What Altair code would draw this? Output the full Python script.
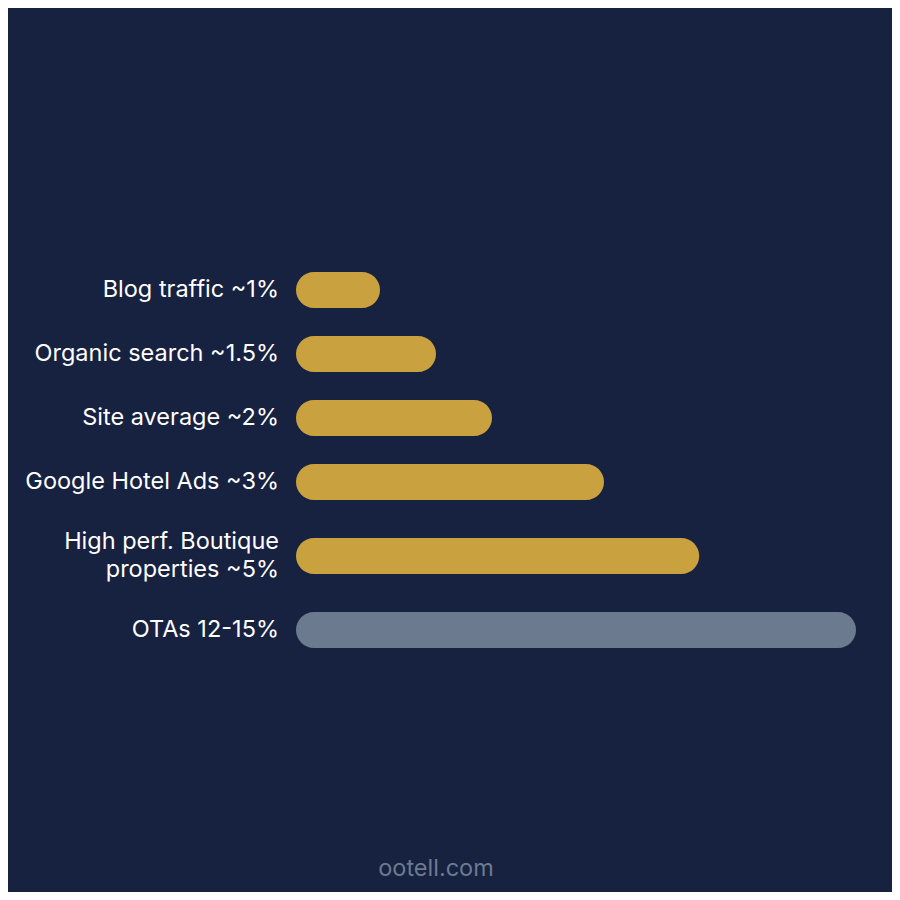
import altair as alt
import pandas as pd

labels = ["Blog traffic ~1%", "Organic search ~1.5%", "Site average ~2%",
          "Google Hotel Ads ~3%", "High perf. Boutique\nproperties ~5%", "OTAs 12-15%"]
widths = [15, 25, 35, 55, 72, 100]
groups = ["direct", "direct", "direct", "direct", "direct", "ota"]

BG = "#172140"
GOLD = "#C9A23F"
SLATE = "#6C7A90"
LINE_H = 28

df = pd.DataFrame({"label": labels, "width": widths, "group": groups,
                   "order": list(range(len(labels)))})

# row height grows with number of text lines in the label (like a flex list)
base = alt.Chart(df).transform_calculate(
    lines="length(split(datum.label, '\\n'))",
    rowh="44 + 20 * datum.lines",
).transform_window(
    cum="sum(rowh)", sort=[alt.SortField("order")], frame=[None, 0]
).transform_calculate(
    center="datum.cum - datum.rowh / 2",
).transform_calculate(
    textpos=f"datum.center - (datum.lines - 1) * {LINE_H} / 2",
)

yscale = alt.Scale(zero=False, nice=False, padding=0, range=[282, 622])
xs = alt.Scale(domain=[0, 100], range=[288, 848], padding=0)

bars = base.mark_bar(cornerRadius=18, height=36).encode(
    x=alt.X("width:Q", scale=xs, axis=None),
    x2=alt.datum(0),
    y=alt.Y("center:Q", axis=None, scale=yscale),
    color=alt.Color("group:N", scale=alt.Scale(domain=["direct", "ota"], range=[GOLD, SLATE]), legend=None),
)

text = base.mark_text(align="right", baseline="middle", dx=-17,
                      font="Inter", fontSize=23.5, color="white",
                      lineBreak="\n", lineHeight=LINE_H).encode(
    x=alt.X("zero:Q", scale=xs, axis=None),
    y=alt.Y("textpos:Q", axis=None, scale=yscale),
    text="label:N",
).transform_calculate(zero="0")

footer = alt.Chart(pd.DataFrame({"t": ["ootell.com"]})).mark_text(
    align="center", baseline="middle", font="Inter", fontSize=23.5, color=SLATE
).encode(x=alt.value(428), y=alt.value(861), text="t:N")

chart = alt.layer(bars, text, footer).properties(
    width=884, height=884, background=BG, padding=0,
    autosize=alt.AutoSizeParams(type="none"),
).configure_view(stroke=None)

chart.save("out.html", embed_options={"renderer": "svg", "actions": False})
